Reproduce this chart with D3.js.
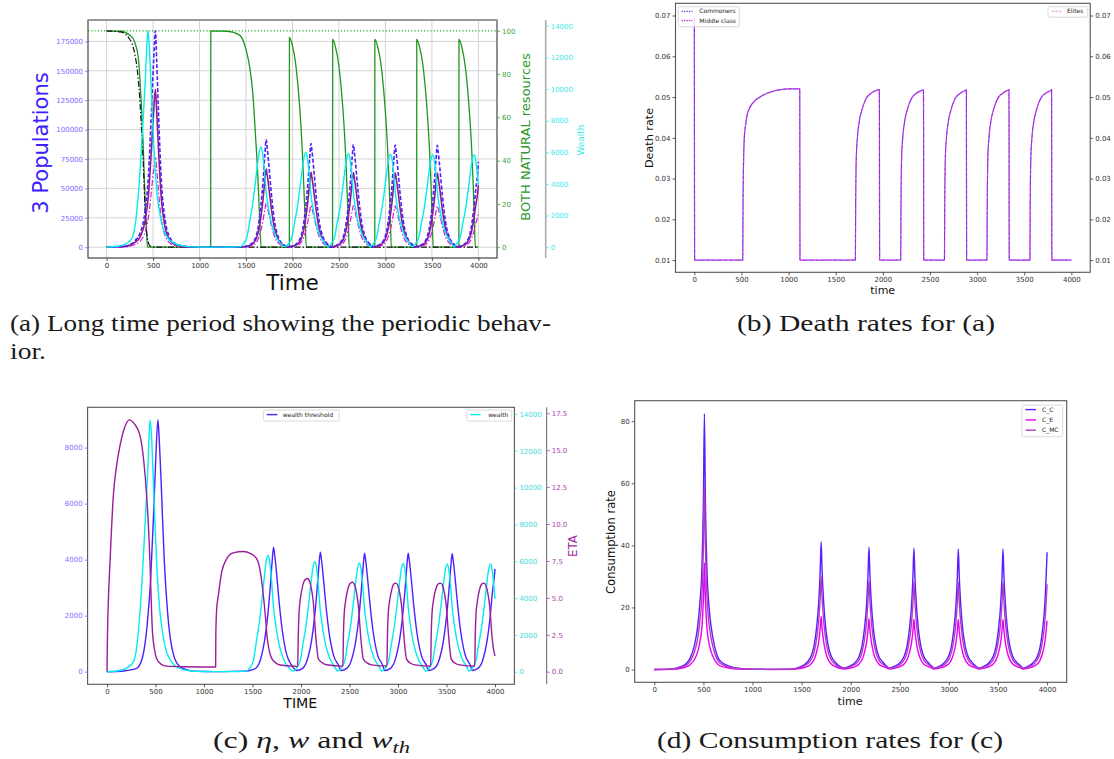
<!DOCTYPE html>
<html><head><meta charset="utf-8">
<script src="https://cdn.jsdelivr.net/npm/d3@7"></script>
<style>body{margin:0;background:#fff}svg{display:block}</style>
</head><body><script>
// ---------------- DATA ----------------
const tickTime = [0,500,1000,1500,2000,2500,3000,3500,4000];
const tickPop = [0,25000,50000,75000,100000,125000,150000,175000];
const tickRes = [0,20,40,60,80,100];
const tickWealth = [0,2000,4000,6000,8000,10000,12000,14000];
const tickDeath = [0.01,0.02,0.03,0.04,0.05,0.06,0.07];
const tickWth = [0,2000,4000,6000,8000];
const tickEta = [0,2.5,5,7.5,10,12.5,15,17.5];
const tickCons = [0,20,40,60,80];

// population-type time grid (panel a populations, panel c wealth threshold)
const tPop = [0,100,205,305,365,415,450,480,505,525,540,560,590,625,675,745,875,1000,1200,1400,
1472,1537,1587,1627,1657,1682,1702,1717,1727,1747,1772,1807,1852,1907,
1954,2019,2069,2109,2139,2164,2184,2199,2209,2229,2254,2289,2334,2389,
2410,2475,2525,2565,2595,2620,2640,2655,2665,2685,2710,2745,2790,2845,
2860,2925,2975,3015,3045,3070,3090,3105,3115,3135,3160,3195,3240,3295,
3313,3378,3428,3468,3498,3523,3543,3558,3568,3588,3613,3648,3693,3748,
3763,3828,3878,3918,3948,3973,3993,4000];
const commoners = [100,290,920,5500,12900,31300,60700,110400,156400,184000,156400,110400,55200,25800,9200,2760,370,55,18,55,
458,1832,5496,15572,32976,54960,77860,91600,85188,68700,45800,21984,7786,2015,
441,1764,5292,14994,31752,52920,74970,88200,82026,66150,44100,21168,7497,1940,
437,1746,5238,14841,31428,52380,74205,87300,81189,65475,43650,20952,7421,1921,
434,1736,5208,14756,31248,52080,73780,86800,80724,65100,43400,20832,7378,1910,
434,1734,5202,14739,31212,52020,73695,86700,80631,65025,43350,20808,7370,1907,
434,1734,5202,14739,31212,50000,64000,72600];
const middleClass = [80,210,670,4020,9380,22800,44200,80400,113900,134000,113900,80400,40200,18800,6700,2010,270,40,13,40,
332,1328,3984,11288,23904,39840,56440,66400,61752,49800,33200,15936,5644,1461,
318,1272,3816,10812,22896,38160,54060,63600,59148,47700,31800,15264,5406,1399,
317,1268,3804,10778,22824,38040,53890,63400,58962,47550,31700,15216,5389,1395,
316,1264,3792,10744,22752,37920,53720,63200,58776,47400,31600,15168,5372,1390,
316,1262,3786,10727,22716,37860,53635,63100,58683,47325,31550,15144,5364,1388,
316,1262,3786,10727,22716,36500,46500,52800];
const elites = [50,120,385,2310,5380,13100,25400,46100,65400,76900,65400,46100,23100,10800,3850,1150,150,23,8,23,
187,746,2238,6341,13428,22380,31705,37300,34689,27975,18650,8952,3171,821,
178,710,2130,6035,12780,21300,30175,35500,33015,26625,17750,8520,3018,781,
177,706,2118,6001,12708,21180,30005,35300,32829,26475,17650,8472,3001,777,
176,704,2112,5984,12672,21120,29920,35200,32736,26400,17600,8448,2992,774,
176,702,2106,5967,12636,21060,29835,35100,32643,26325,17550,8424,2984,772,
176,702,2106,5967,12636,20700,26400,30000];
const wealthThreshold = [0,5,45,120,500,1700,3300,5600,7800,8990,8200,6600,4000,2100,750,200,30,5,3,20,
44,133,490,1160,2000,2980,3910,4444,4220,3560,2580,1470,620,220,
43,128,470,1110,1920,2860,3750,4266,4050,3410,2470,1410,600,210,
42,127,465,1100,1900,2830,3720,4230,4020,3380,2450,1400,590,210,
42,127,465,1100,1900,2830,3720,4230,4020,3380,2450,1400,590,210,
42,126,463,1095,1890,2820,3700,4210,4000,3370,2440,1390,590,210,
42,126,463,1095,1890,2820,3400,3673];

// wealth (panels a and c)
const tWealth = [0,100,200,271,310,340,381,416,435,445,458,477,495,512,546,580,615,718,850,1000,1200,1350,
1440,1470,1510,1540,1570,1595,1620,1640,1660,1675,1695,1715,1740,1770,1810,1860,
1922,1952,1992,2022,2052,2077,2102,2122,2142,2157,2177,2197,2222,2252,2292,2342,
2381,2411,2451,2481,2511,2536,2561,2581,2601,2616,2636,2656,2681,2711,2751,2801,
2833,2863,2903,2933,2963,2988,3013,3033,3053,3068,3088,3108,3133,3163,3203,3253,
3287,3317,3357,3387,3417,3442,3467,3487,3507,3522,3542,3562,3587,3617,3657,3707,
3733,3763,3803,3833,3863,3888,3913,3933,3953,3968,3988,4000];
const wealth = [0,40,200,520,1500,3230,6845,10460,12900,13680,12900,10460,8000,5940,3230,1900,1060,270,50,10,5,10,
32,190,633,1650,2660,3800,5060,5950,6330,6080,5060,3610,2530,1580,820,320,
30,180,600,1560,2520,3590,4790,5630,5990,5750,4790,3410,2400,1500,780,300,
30,177,591,1540,2480,3550,4730,5560,5910,5670,4730,3370,2360,1480,770,300,
29,176,588,1530,2470,3530,4700,5530,5880,5640,4700,3350,2350,1470,760,290,
29,176,585,1520,2460,3510,4680,5500,5850,5620,4680,3330,2340,1460,760,290,
29,176,585,1520,2460,3510,4680,5500,5850,5620,4680,3960];

// natural resources (panel a)
const natureT = [0,150,250,300,340,357,375,393,405,418,430,440,
1120,1121,1300,1430,1502,1540,1573,1600,1627,1645,1663,
1966,1967,2000,2030,2060,2085,2105,2120,2135,2148,
2431,2432,2465,2495,2525,2550,2570,2585,2598,2610,
2885,2886,2920,2950,2980,3005,3025,3040,3052,3063,
3336,3337,3370,3400,3430,3455,3475,3490,3502,3513,
3790,3791,3824,3854,3884,3909,3929,3944,3956,3967,4000];
const natureV = [100,99.8,98,95,88,79,65,48,33,17,7,0,
0,100,99.8,98,91,83,71,53,33,15,0,
0,97,93,86,74,60,45,30,14,0,
0,96,92,85,73,59,44,29,14,0,
0,96,92,85,73,59,44,29,14,0,
0,96,92,85,73,59,44,29,14,0,
0,96,92,85,73,59,44,29,14,0,0];
const stockT = [0,150,250,300,330,355,375,395,410,425,440,460,500,4000];
const stockV = [100,99.5,96,90,82,70,55,38,22,10,4,1,0,0];

// death rate (panel b)
const deathT = [0,3,513,517,523,530,540,560,591,626,697,803,909,1000,1118,1121,
1708,1712,1718,1730,1750,1780,1820,1880,1940,1963,1966,
2189,2193,2199,2211,2231,2261,2301,2361,2421,2431,2434,
2653,2657,2663,2675,2695,2725,2765,2825,2880,2886,2889,
3104,3108,3114,3126,3146,3176,3216,3276,3330,3338,3341,
3560,3564,3570,3582,3602,3632,3672,3732,3785,3790,3793,4000];
const deathV = [0.07,0.01,0.01,0.025,0.035,0.04,0.0425,0.0455,0.0475,0.0487,0.05,0.0512,0.0518,0.052,0.052,0.01,
0.01,0.025,0.035,0.04,0.044,0.047,0.0495,0.051,0.0517,0.0518,0.01,
0.01,0.025,0.035,0.04,0.044,0.047,0.0495,0.051,0.0517,0.0518,0.01,
0.01,0.025,0.035,0.04,0.044,0.047,0.0495,0.051,0.0517,0.0518,0.01,
0.01,0.025,0.035,0.04,0.044,0.047,0.0495,0.051,0.0517,0.0518,0.01,
0.01,0.025,0.035,0.04,0.044,0.047,0.0495,0.051,0.0517,0.0518,0.01,0.01];

// eta (panel c)
const etaT = [0,5,15,31,65,100,134,180,230,280,340,380,409,430,443,455,467,490,512,560,615,800,1120,
1122,1130,1148,1182,1230,1300,1405,1480,1543,1580,1612,1635,1650,1670,1698,1740,1784,1966,
1972,1980,1995,2020,2045,2069,2090,2110,2127,2140,2151,2165,2178,2220,2264,2432,
2437,2445,2460,2485,2510,2533,2554,2574,2591,2604,2615,2629,2642,2685,2730,2886,
2891,2899,2914,2937,2958,2979,3000,3020,3037,3050,3061,3075,3088,3130,3175,3337,
3342,3350,3365,3390,3415,3440,3461,3481,3498,3511,3522,3536,3549,3590,3635,3791,
3796,3804,3819,3842,3865,3887,3908,3928,3945,3958,3969,3983,4000];
const etaV = [0,2.5,5.0,7.4,11.9,14.0,15.3,16.5,17.05,16.8,16.0,14.2,11.9,9.5,7.4,5.0,2.9,1.5,0.88,0.5,0.38,0.34,0.32,
2.5,4.2,5.16,6.74,7.6,8.05,8.14,8.0,7.65,6.8,5.16,3.6,2.4,1.5,0.9,0.6,0.45,0.36,
2.5,4.0,5.0,5.9,6.25,6.31,6.1,5.5,4.7,3.5,2.46,1.5,0.88,0.6,0.47,0.38,
2.4,3.9,4.8,5.65,6.0,6.06,5.85,5.3,4.5,3.4,2.4,1.45,0.86,0.58,0.46,0.38,
2.4,3.9,4.8,5.6,5.95,6.0,5.8,5.25,4.45,3.35,2.4,1.43,0.85,0.57,0.46,0.38,
2.4,3.9,4.8,5.6,5.95,6.0,5.8,5.25,4.45,3.35,2.4,1.43,0.85,0.57,0.46,0.38,
2.4,3.9,4.8,5.6,5.95,6.0,5.8,5.25,4.45,3.35,2.4,1.6,1.06];

// consumption (panel d)
const tCons = [0,100,200,260,320,364,410,440,465,485,500,510,520,535,555,580,610,652,700,771,850,1000,1200,1400,
1449,1509,1559,1599,1629,1654,1674,1689,1699,1709,1724,1744,1769,1799,1839,1889,
1936,1996,2046,2086,2116,2141,2161,2176,2186,2196,2211,2231,2256,2286,2326,2376,
2394,2454,2504,2544,2574,2599,2619,2634,2644,2654,2669,2689,2714,2744,2784,2834,
2846,2906,2956,2996,3026,3051,3071,3086,3096,3106,3121,3141,3166,3196,3236,3286,
3301,3361,3411,3451,3481,3506,3526,3541,3551,3561,3576,3596,3621,3651,3691,3741,
3750,3810,3860,3900,3930,3955,3975,3990,4000];
const consC = [0,0.05,0.3,0.8,1.8,3.6,8.0,13.5,22,33,55,82.5,55,33,21,13.5,8.0,3.6,2.0,1.0,0.4,0.1,0.05,0.1,
0.45,1.2,2.4,4.5,8.0,14.0,21.5,31.5,41.1,31.5,22.0,13.8,8.0,4.5,2.5,1.0,
0.43,1.15,2.3,4.3,7.7,13.4,20.6,30.3,39.4,30.3,21.1,13.2,7.7,4.3,2.4,0.8,
0.43,1.14,2.28,4.27,7.6,13.3,20.4,30.0,39.1,30.0,20.9,13.1,7.6,4.3,2.4,0.8,
0.42,1.13,2.26,4.24,7.5,13.2,20.3,29.8,38.8,29.8,20.8,13.0,7.5,4.2,2.3,0.8,
0.42,1.13,2.26,4.24,7.5,13.2,20.3,29.8,38.8,29.8,20.8,13.0,7.5,4.2,2.3,0.8,
0.42,1.12,2.24,4.2,7.4,13.0,20.0,29.4,37.8];
const consMC = [0,0.04,0.22,0.58,1.3,2.6,5.8,9.8,16,24,40,60,40,24,15.3,9.8,5.8,2.6,1.5,0.73,0.3,0.07,0.04,0.07,
0.33,0.87,1.75,3.3,5.8,10.2,15.7,22.9,29.95,22.9,16.0,10.0,5.8,3.3,1.8,0.7,
0.31,0.84,1.67,3.1,5.6,9.8,15.0,22.1,28.7,22.1,15.4,9.6,5.6,3.1,1.75,0.6,
0.31,0.83,1.66,3.1,5.5,9.7,14.8,21.8,28.4,21.8,15.2,9.5,5.5,3.1,1.75,0.6,
0.31,0.82,1.65,3.1,5.5,9.6,14.8,21.7,28.2,21.7,15.1,9.5,5.5,3.1,1.7,0.6,
0.31,0.82,1.65,3.1,5.5,9.6,14.8,21.7,28.2,21.7,15.1,9.5,5.5,3.1,1.7,0.6,
0.31,0.81,1.63,3.05,5.4,9.5,14.6,21.4,27.5];
const consE = [0,0.02,0.12,0.33,0.75,1.5,3.3,5.6,9.1,13.7,22.8,34.3,22.8,13.7,8.7,5.6,3.3,1.5,0.83,0.42,0.17,0.04,0.02,0.04,
0.19,0.5,1.0,1.87,3.3,5.8,8.9,13.1,17.07,13.1,9.1,5.7,3.3,1.87,1.04,0.4,
0.18,0.48,0.96,1.79,3.2,5.6,8.6,12.6,16.4,12.6,8.8,5.5,3.2,1.79,1.0,0.35,
0.18,0.47,0.95,1.77,3.15,5.5,8.5,12.4,16.2,12.4,8.7,5.4,3.15,1.77,1.0,0.35,
0.17,0.47,0.94,1.76,3.1,5.5,8.4,12.4,16.1,12.4,8.6,5.4,3.1,1.76,0.95,0.35,
0.17,0.47,0.94,1.76,3.1,5.5,8.4,12.4,16.1,12.4,8.6,5.4,3.1,1.76,0.95,0.35,
0.17,0.46,0.93,1.74,3.05,5.4,8.3,12.2,15.7];

// ---------------- HELPERS ----------------
const FS = "DejaVu Sans";
const svg = d3.select("body").append("svg").attr("width",1114).attr("height",759).style("font-family",FS);
function pairs(t,v){ if(t.length!==v.length) console.error("length mismatch",t.length,v.length); return d3.zip(t,v); }
function drawLine(g,data,x,y,color,w,dash,offset){
  g.append("path").datum(data).attr("fill","none").attr("stroke",color).attr("stroke-width",w)
   .attr("stroke-dasharray",dash||null).attr("stroke-dashoffset",offset||0).attr("stroke-linejoin","round")
   .attr("d",d3.line().x(d=>x(d[0])).y(d=>y(d[1])).curve(d3.curveMonotoneX));
}
function styleAxis(g,tickColor,textColor,fs){
  g.select(".domain").remove();
  g.selectAll(".tick line").attr("stroke",tickColor).attr("stroke-width",0.8);
  g.selectAll(".tick text").attr("fill",textColor).style("font-size",(fs||7)+"px").style("font-family",FS);
}
const fmtD = d3.format("d");
function frame(g,P,color){
  g.append("rect").attr("x",P.l).attr("y",P.t).attr("width",P.r-P.l).attr("height",P.b-P.t)
   .attr("fill","none").attr("stroke",color||"#444").attr("stroke-width",1.1);
}
function vlabel(g,txt,x,y,size,color){
  g.append("text").attr("transform",`translate(${x},${y}) rotate(-90)`).attr("text-anchor","middle")
   .style("font-size",size+"px").attr("fill",color).text(txt);
}
function hlabel(g,txt,x,y,size,color){
  g.append("text").attr("x",x).attr("y",y).attr("text-anchor","middle").style("font-size",size+"px").attr("fill",color).text(txt);
}
function legend(g,x,y,w,h,items){
  g.append("rect").attr("x",x).attr("y",y).attr("width",w).attr("height",h).attr("rx",1.5)
   .attr("fill","#fff").attr("fill-opacity",0.85).attr("stroke","#d0d0d0").attr("stroke-width",0.8);
  items.forEach((it,i)=>{
    const yy = y+4.6+i*it.step;
    g.append("line").attr("x1",x+3.5).attr("x2",x+14).attr("y1",yy).attr("y2",yy)
     .attr("stroke",it.color).attr("stroke-width",it.w||1.2).attr("stroke-dasharray",it.dash||null);
    g.append("text").attr("x",x+it.tx).attr("y",yy+2.1).style("font-size","6px").attr("fill","#222").text(it.label);
  });
}

const cBlue="#4f1eff", cPurple="#8c1d8c", cMag="#d21cd2", cCyan="#00eeee", cGreen="#1f961f";

// ---------------- PANEL (a) ----------------
const A={l:88,r:497,t:20,b:258};
const xA=d3.scaleLinear([-200,4200],[A.l,A.r]);
const yPopA=d3.scaleLinear([-9200,193200],[A.b,A.t]);
const yResA=d3.scaleLinear([-5,105],[A.b,A.t]);
const yWA=d3.scaleLinear([-684,14364],[A.b,A.t]);
const gA=svg.append("g");
gA.append("g").selectAll("line").data(tickTime).join("line").attr("x1",d=>xA(d)).attr("x2",d=>xA(d))
  .attr("y1",A.t).attr("y2",A.b).attr("stroke","#d4d4d4").attr("stroke-width",1);
gA.append("g").selectAll("line").data(tickPop).join("line").attr("y1",d=>yPopA(d)).attr("y2",d=>yPopA(d))
  .attr("x1",A.l).attr("x2",A.r).attr("stroke","#d4d4d4").attr("stroke-width",1);
gA.append("line").attr("x1",A.l).attr("x2",A.r).attr("y1",yResA(100)).attr("y2",yResA(100))
  .attr("stroke","#2fae2f").attr("stroke-width",1.2).attr("stroke-dasharray","1.2,2");
drawLine(gA,pairs(natureT,natureV),xA,yResA,cGreen,1.3);
drawLine(gA,pairs(stockT,stockV),xA,yResA,"#111",1.2,"6,2,1.5,2");
drawLine(gA,pairs(tPop,elites),xA,yPopA,cMag,1.2,"6,2,1.5,2");
drawLine(gA,pairs(tPop,middleClass),xA,yPopA,cPurple,1.6);
drawLine(gA,pairs(tPop,commoners),xA,yPopA,cBlue,1.6,"4,2");
drawLine(gA,pairs(tWealth,wealth),xA,yWA,cCyan,1.4);
frame(gA,A,"#333");
gA.append("line").attr("x1",A.l).attr("x2",A.r).attr("y1",A.t).attr("y2",A.t).attr("stroke","#999").attr("stroke-width",2);
styleAxis(gA.append("g").attr("transform",`translate(0,${A.b})`).call(d3.axisBottom(xA).tickValues(tickTime).tickFormat(fmtD).tickSize(3).tickPadding(2)),"#333","#333");
styleAxis(gA.append("g").attr("transform",`translate(${A.l},0)`).call(d3.axisLeft(yPopA).tickValues(tickPop).tickFormat(fmtD).tickSize(3).tickPadding(2)),"#7a68ff","#7a68ff");
styleAxis(gA.append("g").attr("transform",`translate(${A.r},0)`).call(d3.axisRight(yResA).tickValues(tickRes).tickFormat(fmtD).tickSize(3).tickPadding(2)),"#3a9f3a","#3a9f3a");
gA.append("line").attr("x1",545.7).attr("x2",545.7).attr("y1",A.t).attr("y2",A.b).attr("stroke","#aaa").attr("stroke-width",1.6);
styleAxis(gA.append("g").attr("transform",`translate(545.7,0)`).call(d3.axisRight(yWA).tickValues(tickWealth).tickFormat(fmtD).tickSize(3).tickPadding(2)),"#3ee6e6","#3ee6e6");
vlabel(gA,"3 Populations",48,143,21,"#3a22ff");
hlabel(gA,"Time",292.5,290,21.5,"#111");
vlabel(gA,"BOTH NATURAL resources",530,137,13,"#2a9a2a");
vlabel(gA,"Wealth",584,140,9,"#3ee6e6");

// ---------------- PANEL (b) ----------------
const B={l:675.5,r:1090.2,t:3.3,b:272.3};
const xB=d3.scaleLinear([-200,4200],[B.l,B.r]);
const yB=d3.scaleLinear([0.007,0.073],[B.b,B.t]);
const gB=svg.append("g");
drawLine(gB,pairs(deathT,deathV),xB,yB,"#ee88ee",1.1,"3,1.5");
drawLine(gB,pairs(deathT,deathV),xB,yB,"#4a3aff",1.2,"1.2,1.2");
drawLine(gB,pairs(deathT,deathV),xB,yB,"#cc10cc",1.2,"1.2,1.2",1.2);
frame(gB,B,"#555");
styleAxis(gB.append("g").attr("transform",`translate(0,${B.b})`).call(d3.axisBottom(xB).tickValues(tickTime).tickFormat(fmtD).tickSize(3).tickPadding(2)),"#333","#333");
styleAxis(gB.append("g").attr("transform",`translate(${B.l},0)`).call(d3.axisLeft(yB).tickValues(tickDeath).tickFormat(d3.format(".2f")).tickSize(3).tickPadding(2)),"#333","#333");
styleAxis(gB.append("g").attr("transform",`translate(${B.r},0)`).call(d3.axisRight(yB).tickValues(tickDeath).tickFormat(d3.format(".2f")).tickSize(3).tickPadding(2)),"#333","#333");
vlabel(gB,"Death rate",652.5,138,11.2,"#111");
hlabel(gB,"time",882.7,294,11,"#111");
legend(gB,678.3,6.7,61,20,[{label:"Commoners",color:"#4a3aff",dash:"1.2,1.2",tx:21,step:9.4},{label:"Middle class",color:"#cc10cc",dash:"1.2,1.2",tx:21,step:9.4}]);
legend(gB,1048,6.7,39.7,10.5,[{label:"Elites",color:"#ee88ee",dash:"2.5,1.2",tx:19,step:9.4,w:1}]);

// ---------------- PANEL (c) ----------------
const C={l:87.6,r:514.4,t:407.3,b:684.3};
const xC=d3.scaleLinear([-200,4200],[C.l,C.r]);
const yThC=d3.scaleLinear([-450,9440],[C.b,C.t]);
const yWC=d3.scaleLinear([-684,14364],[C.b,C.t]);
const yEtaC=d3.scaleLinear([-0.8525,17.9025],[C.b,C.t]);
const gC=svg.append("g");
drawLine(gC,pairs(tPop,wealthThreshold),xC,yThC,cBlue,1.4);
drawLine(gC,pairs(tWealth,wealth),xC,yWC,cCyan,1.4);
drawLine(gC,pairs(etaT,etaV),xC,yEtaC,"#9a1c9a",1.4);
frame(gC,C,"#555");
styleAxis(gC.append("g").attr("transform",`translate(0,${C.b})`).call(d3.axisBottom(xC).tickValues(tickTime).tickFormat(fmtD).tickSize(3).tickPadding(2)),"#333","#333");
styleAxis(gC.append("g").attr("transform",`translate(${C.l},0)`).call(d3.axisLeft(yThC).tickValues(tickWth).tickFormat(fmtD).tickSize(3).tickPadding(2)),"#7f6eff","#7f6eff");
styleAxis(gC.append("g").attr("transform",`translate(${C.r},0)`).call(d3.axisRight(yWC).tickValues(tickWealth).tickFormat(fmtD).tickSize(3).tickPadding(2)),"#3cdada","#3cdada");
gC.append("line").attr("x1",546.7).attr("x2",546.7).attr("y1",C.t).attr("y2",C.b).attr("stroke","#666").attr("stroke-width",1);
styleAxis(gC.append("g").attr("transform",`translate(546.7,0)`).call(d3.axisRight(yEtaC).tickValues(tickEta).tickFormat(d3.format(".1f")).tickSize(3).tickPadding(2)),"#b040b0","#b040b0");
hlabel(gC,"TIME",300.3,708,14.2,"#111");
vlabel(gC,"ETA",577.3,546,11.8,"#a030a0");
legend(gC,263.3,410,76,11,[{label:"wealth threshold",color:cBlue,tx:19.5,step:9,w:1.4}]);
legend(gC,466.7,410,45,11,[{label:"wealth",color:cCyan,tx:21.5,step:9,w:1.4}]);

// ---------------- PANEL (d) ----------------
const D={l:634.7,r:1066.7,t:400.7,b:682.3};
const xD=d3.scaleLinear([-200,4200],[D.l,D.r]);
const yD=d3.scaleLinear([-4.125,86.625],[D.b,D.t]);
const gD=svg.append("g");
drawLine(gD,pairs(tCons,consC),xD,yD,"#5a1eff",1.4);
drawLine(gD,pairs(tCons,consE),xD,yD,"#ee00ee",1.4);
drawLine(gD,pairs(tCons,consMC),xD,yD,"#b03cc4",1.4);
frame(gD,D,"#555");
styleAxis(gD.append("g").attr("transform",`translate(0,${D.b})`).call(d3.axisBottom(xD).tickValues(tickTime).tickFormat(fmtD).tickSize(3).tickPadding(2)),"#333","#333");
styleAxis(gD.append("g").attr("transform",`translate(${D.l},0)`).call(d3.axisLeft(yD).tickValues(tickCons).tickFormat(fmtD).tickSize(3).tickPadding(2)),"#333","#333");
vlabel(gD,"Consumption rate",614.5,542,11.6,"#111");
hlabel(gD,"time",850,705,11,"#111");
legend(gD,1022,405,40.7,31.7,[{label:"C_C",color:"#5a1eff",tx:20,step:10.3,w:1.4},{label:"C_E",color:"#ee00ee",tx:20,step:10.3,w:1.4},{label:"C_MC",color:"#b03cc4",tx:20,step:10.3,w:1.4}]);

// ---------------- CAPTIONS ----------------
const SERIF="'Liberation Serif','Times New Roman',serif";
const cap=svg.append("g").attr("fill","#1a1a1a");
function caption(txt,x,y,len){
  return cap.append("text").attr("x",x).attr("y",y).style("font-size","24px").style("font-family",SERIF)
    .attr("textLength",len).attr("lengthAdjust","spacingAndGlyphs").text(txt);
}
caption("(a) Long time period showing the periodic behav-",10,331,541);
caption("ior.",10,359,36);
caption("(b) Death rates for (a)",737,331,258);
const tc=cap.append("text").attr("x",213).attr("y",748).style("font-size","24px").style("font-family",SERIF)
  .attr("textLength",197).attr("lengthAdjust","spacingAndGlyphs");
tc.append("tspan").text("(c) ");
tc.append("tspan").style("font-style","italic").text("η");
tc.append("tspan").text(", ");
tc.append("tspan").style("font-style","italic").text("w");
tc.append("tspan").text(" and ");
tc.append("tspan").style("font-style","italic").text("w");
tc.append("tspan").style("font-style","italic").style("font-size","17px").attr("dy",5).text("th");
caption("(d) Consumption rates for (c)",657,748,346);
</script></body></html>
